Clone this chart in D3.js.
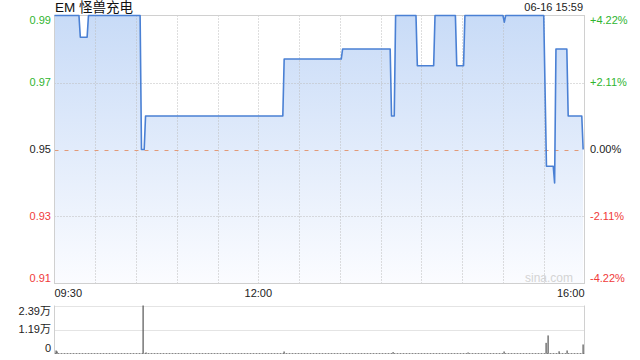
<!DOCTYPE html>
<html>
<head>
<meta charset="utf-8">
<script src="https://cdn.jsdelivr.net/npm/d3@7"></script>
<style>
  html, body { margin: 0; padding: 0; background: #fff; }
  svg { display: block; font-family: "Liberation Sans", Arial, "Noto Sans CJK SC", sans-serif; }
</style>
</head>
<body>
<svg id="chart" width="640" height="360"></svg>
<script>
// ---- data ----
const title = "EM 怪兽充电";
const stamp = "06-16 15:59";
const prevClose = 0.95;
const minutes = [0,18,19,24,25,63,64,66,67,168,169,211,212,247,248,250,251,266,267,279,280,295,296,301,302,330,331,332,360,362,367,368,369,377,378,388,389];
const prices  = [0.99,0.99,0.9835,0.9835,0.99,0.99,0.95,0.95,0.96,0.96,0.977,0.977,0.98,0.98,0.96,0.96,0.99,0.99,0.975,0.975,0.99,0.99,0.975,0.975,0.99,0.99,0.988,0.99,0.99,0.945,0.945,0.94,0.98,0.98,0.96,0.96,0.95];
const priceTicks = [0.99, 0.97, 0.95, 0.93, 0.91];
const priceTickLabels = ["0.99", "0.97", "0.95", "0.93", "0.91"];
const pctTickLabels = ["+4.22%", "+2.11%", "0.00%", "-2.11%", "-4.22%"];
const timeTicks = [0, 150, 390];
const timeTickLabels = ["09:30", "12:00", "16:00"];
const volMinutes = [1,2,65,67,169,249,304,331,362,363,371,377,389];
const volValues  = [1500,1000,23900,500,1000,700,500,1000,5300,9000,1100,1500,4500];
const volTicks = [23900, 11950, 0];
const volTickLabels = ["2.39万", "1.19万", "0"];

// ---- layout ----
const svg = d3.select("#chart");
const L = 54.5, R = 584.5, T = 15.5, B = 283.5;
const VT = 305.5, VB = 353.5;

const x = d3.scaleLinear().domain([0, 390]).range([L, R]);
const y = d3.scaleLinear().domain([0.91, 0.99]).range([B, T]);
const yv = d3.scaleLinear().domain([0, 23900]).range([VB, VT]);

const upColor = "#2fb52f", downColor = "#f03a3a", flatColor = "#222";
function tickColor(v) { return Math.abs(v - prevClose) < 1e-9 ? flatColor : (v > prevClose ? upColor : downColor); }

// gradient
const defs = svg.append("defs");
const grad = defs.append("linearGradient").attr("id", "fillGrad")
  .attr("x1", 0).attr("y1", 0).attr("x2", 0).attr("y2", 1);
grad.append("stop").attr("offset", "0%").attr("stop-color", "#c8dbf7");
grad.append("stop").attr("offset", "100%").attr("stop-color", "#fbfcff");

const pts = minutes.map((m, i) => [m, prices[i]]);

// area
const area = d3.area().x(d => x(d[0])).y0(B).y1(d => y(d[1]));
svg.append("path").datum(pts).attr("d", area)
  .attr("fill", "url(#fillGrad)");

// vertical grid
const vgrid = d3.range(30, 390, 30);
svg.append("g").selectAll("line").data(vgrid).join("line")
  .attr("x1", d => Math.round(x(d)) + 0.5).attr("x2", d => Math.round(x(d)) + 0.5)
  .attr("y1", T).attr("y2", B)
  .attr("stroke", "#bdbdbd").attr("stroke-dasharray", "1,2");

// horizontal grid
svg.append("g").selectAll("line").data(priceTicks.filter(v => v !== 0.99 && v !== 0.91)).join("line")
  .attr("x1", L).attr("x2", R)
  .attr("y1", d => Math.round(y(d)) + 0.5).attr("y2", d => Math.round(y(d)) + 0.5)
  .attr("stroke", d => d === prevClose ? "#e29a78" : "#bdbdbd")
  .attr("stroke-dasharray", d => d === prevClose ? "4,6" : "1,2");

// border
svg.append("rect").attr("x", L).attr("y", T).attr("width", R - L).attr("height", B - T)
  .attr("fill", "none").attr("stroke", "#d0d0d0");

// line
const line = d3.line().x(d => x(d[0])).y(d => y(d[1]));
svg.append("path").datum(pts).attr("d", line)
  .attr("fill", "none").attr("stroke", "#4a80d4").attr("stroke-width", 1.6)
  .attr("stroke-linejoin", "round");

// watermark
svg.append("text").attr("x", 573).attr("y", 282).attr("text-anchor", "end")
  .attr("font-size", 12).attr("fill", "#d4d4d4").text("sina.com");

// left price labels
const clampY = v => Math.max(T + 5, Math.min(B - 5, v));
svg.append("g").selectAll("text").data(priceTicks).join("text")
  .attr("x", 51).attr("y", d => clampY(y(d)))
  .attr("dy", "0.35em").attr("text-anchor", "end").attr("font-size", 11)
  .attr("fill", d => tickColor(d)).text((d, i) => priceTickLabels[i]);

// right pct labels
svg.append("g").selectAll("text").data(priceTicks).join("text")
  .attr("x", 590).attr("y", d => clampY(y(d)))
  .attr("dy", "0.35em").attr("text-anchor", "start").attr("font-size", 11)
  .attr("fill", d => tickColor(d)).text((d, i) => pctTickLabels[i]);

// time labels
svg.append("g").selectAll("text").data(timeTicks).join("text")
  .attr("x", d => x(d)).attr("y", 293.5).attr("dy", "0.35em")
  .attr("text-anchor", (d, i) => i === 0 ? "start" : (i === timeTicks.length - 1 ? "end" : "middle"))
  .attr("font-size", 11).attr("fill", "#222").text((d, i) => timeTickLabels[i]);

// title & stamp
svg.append("text").attr("x", 55).attr("y", 12).attr("font-size", 13.5).attr("fill", "#111")
  .attr("font-family", "\"Liberation Sans\", \"Noto Sans CJK SC\", sans-serif").text(title);
svg.append("text").attr("x", 583).attr("y", 11).attr("text-anchor", "end").attr("font-size", 11)
  .attr("fill", "#222").text(stamp);

// ---- volume panel ----
svg.append("g").selectAll("line").data(volTicks.filter(v => v > 0)).join("line")
  .attr("x1", L).attr("x2", R).attr("y1", d => Math.round(yv(d)) + 0.5).attr("y2", d => Math.round(yv(d)) + 0.5)
  .attr("stroke", "#c8c8c8").attr("stroke-dasharray", "1,1");
svg.append("line").attr("x1", L).attr("x2", R).attr("y1", VB).attr("y2", VB)
  .attr("stroke", "#888").attr("stroke-dasharray", "2,1");
svg.append("line").attr("x1", L).attr("x2", L).attr("y1", VT).attr("y2", VB).attr("stroke", "#d0d0d0");
svg.append("line").attr("x1", R).attr("x2", R).attr("y1", VT).attr("y2", VB).attr("stroke", "#d0d0d0");

svg.append("g").selectAll("rect").data(volMinutes).join("rect")
  .attr("x", d => Math.round(x(d)) - 0.5).attr("width", 1.2)
  .attr("y", (d, i) => yv(volValues[i])).attr("height", (d, i) => VB - yv(volValues[i]))
  .attr("fill", "#555");

const clampV = v => Math.max(VT + 6, Math.min(VB - 5, v));
svg.append("g").selectAll("text").data(volTicks).join("text")
  .attr("x", 51).attr("y", d => clampV(yv(d))).attr("dy", "0.35em")
  .attr("text-anchor", "end").attr("font-size", 11).attr("fill", "#222")
  .text((d, i) => volTickLabels[i]);
</script>
</body>
</html>
